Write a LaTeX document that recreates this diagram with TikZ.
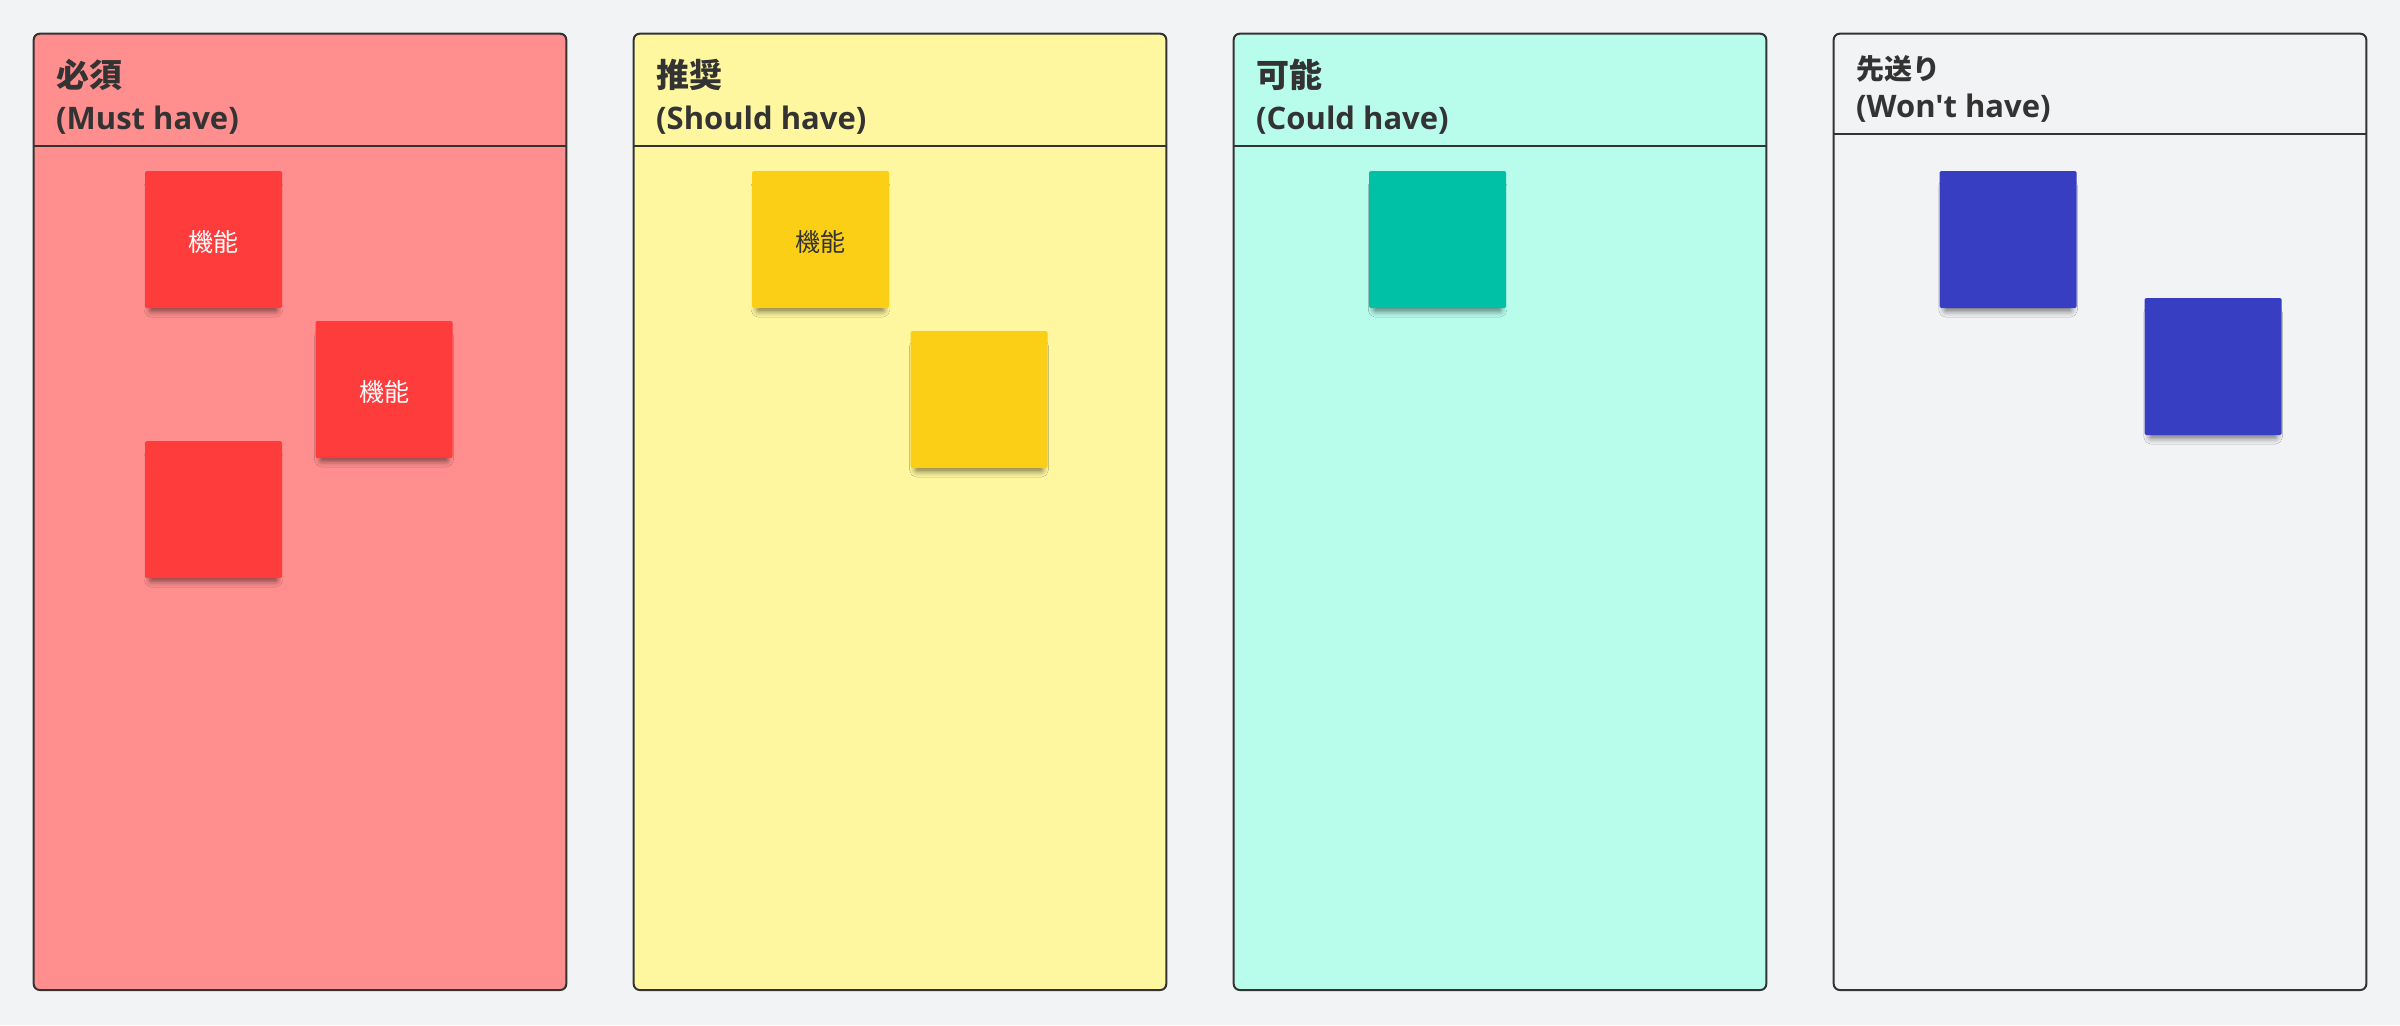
\documentclass[tikz,border=0pt]{standalone}
\usepackage{fontspec}
\usetikzlibrary{shadows.blur}
\newfontfamily\latfont{Open Sans}
\newfontfamily\jpfont{Noto Sans CJK JP}
\definecolor{bgc}{HTML}{F2F3F5}
\definecolor{ink}{HTML}{333333}
\definecolor{mustbg}{HTML}{FF8E8E}
\definecolor{shouldbg}{HTML}{FFF7A0}
\definecolor{couldbg}{HTML}{B8FDEB}
\definecolor{wontbg}{HTML}{F2F3F5}
\definecolor{redn}{HTML}{FF3C3C}
\definecolor{yeln}{HTML}{FBCF16}
\definecolor{tealn}{HTML}{00C1A5}
\definecolor{bluen}{HTML}{383EC2}
\begin{document}
\begin{tikzpicture}[x=1pt,y=1pt,
  column/.style={draw=ink, line width=2pt, rounded corners=6pt, anchor=north west,
    minimum width=532.6pt, minimum height=956.3pt, inner sep=0pt, outer sep=0pt},
  hline/.style={draw=ink, line width=2pt},
  ttl/.style={anchor=base west, inner sep=0pt, text=ink},
  jpttl/.style={ttl, font=\jpfont\bfseries\fontsize{33}{36}\selectfont},
  jpttlsmall/.style={ttl, font=\jpfont\bfseries\fontsize{28}{32}\selectfont},
  enttl/.style={ttl, font=\latfont\bfseries\fontsize{31}{36}\selectfont},
  sticky/.style={minimum width=137pt, minimum height=137pt, inner sep=0pt,
    rounded corners=1.5pt,
    blur shadow={shadow xshift=0pt, shadow yshift=-9pt, shadow scale=0.93,
      shadow blur radius=6pt, shadow opacity=50}},
  stickytext/.style={inner sep=0pt, font=\jpfont\fontsize{25}{30}\selectfont},
]
\useasboundingbox (0,0) rectangle (2400,-1025);
\fill[bgc] (0,0) rectangle (2400,-1025);

% columns
\node[column, fill=mustbg] (c1) at (33.7,-33.7) {};
\node[column, fill=shouldbg] (c2) at (633.7,-33.7) {};
\node[column, fill=couldbg] (c3) at (1233.7,-33.7) {};
\node[column, fill=wontbg] (c4) at (1833.7,-33.7) {};

\coordinate (h1) at (0,-145.5);
\coordinate (h4) at (0,-133.5);
\draw[hline] (c1.west |- h1) -- (c1.east |- h1);
\draw[hline] (c2.west |- h1) -- (c2.east |- h1);
\draw[hline] (c3.west |- h1) -- (c3.east |- h1);
\draw[hline] (c4.west |- h4) -- (c4.east |- h4);

% titles
\node[jpttl] (t1a) at (56,-87) {必須};
\node[enttl] (t1b) at (56,-129) {(Must have)};
\node[jpttl] (t2a) at (656,-87) {推奨};
\node[enttl] (t2b) at (656,-129) {(Should have)};
\node[jpttl] (t3a) at (1256,-87) {可能};
\node[enttl] (t3b) at (1256,-129) {(Could have)};
\node[jpttlsmall] (t4a) at (1856,-79) {先送り};
\node[enttl] (t4b) at (1856,-117) {(Won't have)};

% sticky notes
\node[sticky, fill=redn] (s1) at (213.5,-239.5) {};
\node[sticky, fill=redn] (s2) at (384,-389.5) {};
\node[sticky, fill=redn] (s3) at (213.5,-509.5) {};
\node[sticky, fill=yeln] (s4) at (820.5,-239.5) {};
\node[sticky, fill=yeln] (s5) at (979,-399.5) {};
\node[sticky, fill=tealn] (s6) at (1437.5,-239.5) {};
\node[sticky, fill=bluen] (s7) at (2008,-239.5) {};
\node[sticky, fill=bluen] (s8) at (2213,-366.5) {};

% sticky labels
\node[stickytext, text=white] (l1) at ([yshift=-3pt]s1.center) {機能};
\node[stickytext, text=white] (l2) at ([yshift=-3pt]s2.center) {機能};
\node[stickytext, text=ink] (l4) at ([yshift=-3pt]s4.center) {機能};
\end{tikzpicture}
\end{document}
